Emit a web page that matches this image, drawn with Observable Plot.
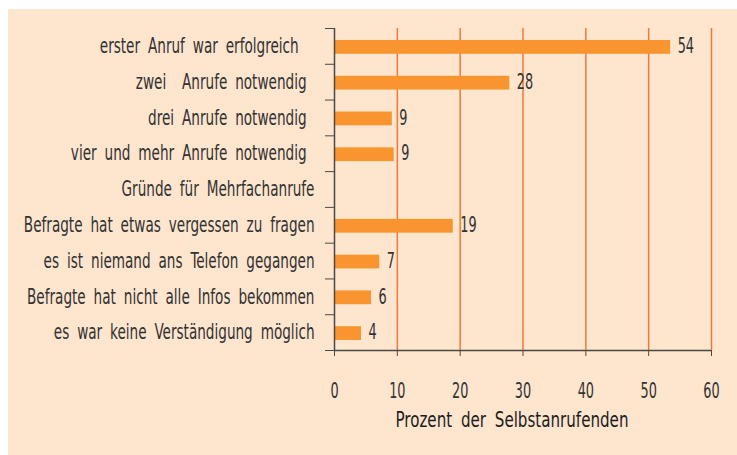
<!DOCTYPE html>
<html>
<head>
<meta charset="utf-8">
<script src="https://cdn.jsdelivr.net/npm/d3@7"></script>
<script src="https://cdn.jsdelivr.net/npm/@observablehq/plot@0.6"></script>
<style>
  html, body { margin: 0; padding: 0; background: #ffffff; }
  #chart svg { display: block; margin-left: 8px; margin-top: 9px; }
  #chart svg text { white-space: pre; word-spacing: 5px; }
</style>
</head>
<body>
<div id="chart"></div>
<script>
const categories = [
  "erster Anruf war erfolgreich  ",
  "zwei  Anrufe notwendig ",
  "drei Anrufe notwendig ",
  "vier und mehr Anrufe notwendig ",
  "Gründe für Mehrfachanrufe",
  "Befragte hat etwas vergessen zu fragen",
  "es ist niemand ans Telefon gegangen",
  "Befragte hat nicht alle Infos bekommen",
  "es war keine Verständigung möglich"
];
const values = [53.5, 27.9, 9.2, 9.5, null, 18.9, 7.2, 5.9, 4.3];
const valueLabels = ["54", "28", "9", "9", "", "19", "7", "6", "4"];
const xTicks = [0, 10, 20, 30, 40, 50, 60];
const xTitle = "Prozent der Selbstanrufenden";

const rows = categories.map((c, i) => ({category: c, index: i, value: values[i], label: valueLabels[i]}));
const barRows = rows.filter(d => d.value != null);
const boundaries = d3.range(0, categories.length + 1);
const centers = categories.map((c, i) => i + 0.5);

const textColor = "#333333";
const axisColor = "#4a4a4a";

const chart = Plot.plot({
  width: 729,
  height: 446,
  marginLeft: 326,
  marginRight: 26,
  marginTop: 19,
  marginBottom: 105,
  style: {
    background: "#FDE5CE",
    color: textColor,
    fontFamily: "'DejaVu Sans Condensed', 'Liberation Sans Narrow', sans-serif",
    fontSize: "21px"
  },
  x: {domain: [0, 60]},
  y: {domain: [0, categories.length], reverse: true},
  marks: [
    Plot.gridX(xTicks.filter(t => t > 0), {stroke: "#EE7A3C", strokeOpacity: 1, strokeWidth: 1.5}),
    Plot.rectX(barRows, {
      x1: 0, x2: "value",
      y1: "index", y2: d => d.index + 1,
      insetTop: 12, insetBottom: 10,
      fill: "#F8952E"
    }),
    Plot.text(barRows, {
      x: "value", y: d => d.index + 0.5, text: "label",
      textAnchor: "start", dx: 7, dy: 0, fill: textColor
    }),
    Plot.ruleX([0], {stroke: axisColor, strokeWidth: 1.5}),
    Plot.ruleY([categories.length], {stroke: axisColor, strokeWidth: 1.5}),
    Plot.axisY({ticks: boundaries, tickSize: 9, tickFormat: () => "", stroke: axisColor, label: null}),
    Plot.axisY({ticks: centers, tickSize: 0, tickPadding: 20, tickFormat: d => categories[Math.floor(d)], label: null}),
    Plot.axisX({ticks: xTicks, tickSize: 6, tickPadding: 27, stroke: axisColor, label: null}),
    Plot.text([xTitle], {frameAnchor: "bottom", dx: -11, dy: 76, fill: "#1e1e1e"})
  ]
});
document.getElementById("chart").appendChild(chart);

// condense glyphs horizontally (around each text's anchor) to mimic the narrow typeface
chart.querySelectorAll("text").forEach(t => {
  const s = t.textContent;
  if (!s || !s.trim()) return;
  const k = /^\d+$/.test(s.trim()) ? 0.68 : (s === xTitle ? 0.8 : 0.72);
  const tr = t.getAttribute("transform");
  if (tr) {
    t.setAttribute("transform", tr + ` scale(${k},1)`);
  } else {
    const x = +(t.getAttribute("x") || 0);
    const y = +(t.getAttribute("y") || 0);
    t.setAttribute("transform", `translate(${x},${y}) scale(${k},1)`);
    t.removeAttribute("x");
    t.removeAttribute("y");
  }
});
</script>
</body>
</html>
